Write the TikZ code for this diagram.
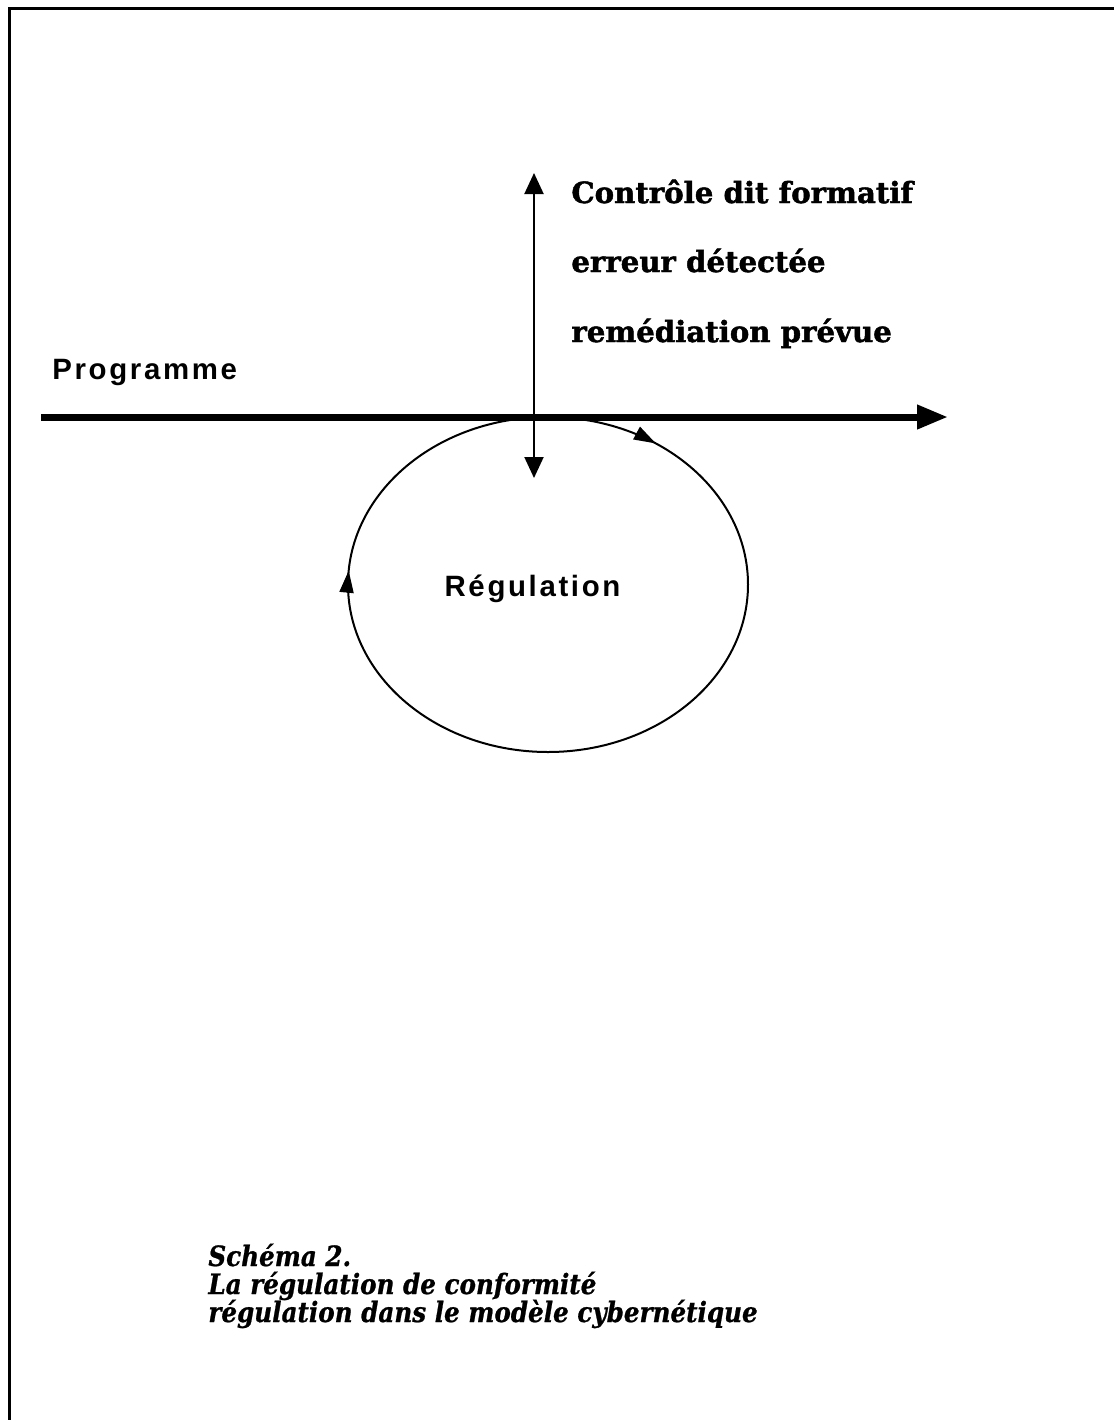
\documentclass[tikz,border=0pt]{standalone}
\usepackage{fontspec}
\usetikzlibrary{arrows.meta,decorations.markings}
\newfontfamily\labfont[LetterSpace=9]{Liberation Sans}
\newfontfamily\heavyfont[FakeBold=1.6]{DejaVu Serif}
\newfontfamily\captfont[FakeStretch=0.88,FakeBold=0.8]{DejaVu Serif}
\tikzset{lab/.style={inner sep=0pt,font=\labfont\bfseries\fontsize{14.7}{17}\selectfont},
  heavy/.style={inner sep=0pt,anchor=base west,font=\heavyfont\bfseries\fontsize{14.6}{17}\selectfont},
  capt/.style={inner sep=0pt,anchor=base west,font=\captfont\bfseries\itshape\fontsize{14}{16}\selectfont},
  looptip/.tip={Triangle[length=11pt,width=7pt]},
  ctltip/.tip={Triangle[length=10.5pt,width=9.5pt]},
  progtip/.tip={Triangle[length=15.5pt,width=11.5pt]}}

\begin{document}
\begin{tikzpicture}[x=0.5pt,y=-0.5pt]
  \useasboundingbox (0,0) rectangle (1114,1420);
  % page frame
  \draw[line width=1.5pt] (9.5,1420) -- (9.5,8.5) -- (1114,8.5);

  % regulation loop
  \draw[line width=1pt,postaction={decorate},decoration={markings,
      mark=at position 0.512 with {\arrow{looptip}},
      mark=at position 0.847 with {\arrow{looptip}}}]
    (548,584.5) ellipse [x radius=200, y radius=167.5];
  \node (reg) [lab,anchor=base] at (532.5,596) {Régulation};

  % programme axis
  \coordinate (prog-a) at (41,417);
  \coordinate (prog-b) at (948,417);
  \draw[line width=3.5pt,-progtip] (prog-a) -- (prog-b);
  \node (prog) [lab,anchor=base west] at (52,379) {Programme};

  % formative control
  \coordinate (ctl-a) at (534,173);
  \coordinate (ctl-b) at (534,478);
  \draw[line width=1pt,ctltip-ctltip] (ctl-a) -- (ctl-b);
  \node (ctl1) [heavy] at (571,203) {Contrôle dit formatif};
  \node (ctl2) [heavy] at (571,272) {erreur détectée};
  \node (ctl3) [heavy] at (571,342) {remédiation prévue};

  % caption
  \node (cap1) [capt] at (208,1266) {Schéma 2.};
  \node (cap2) [capt] at (208,1294) {La régulation de conformité};
  \node (cap3) [capt] at (208,1322) {régulation dans le modèle cybernétique};
\end{tikzpicture}
\end{document}
